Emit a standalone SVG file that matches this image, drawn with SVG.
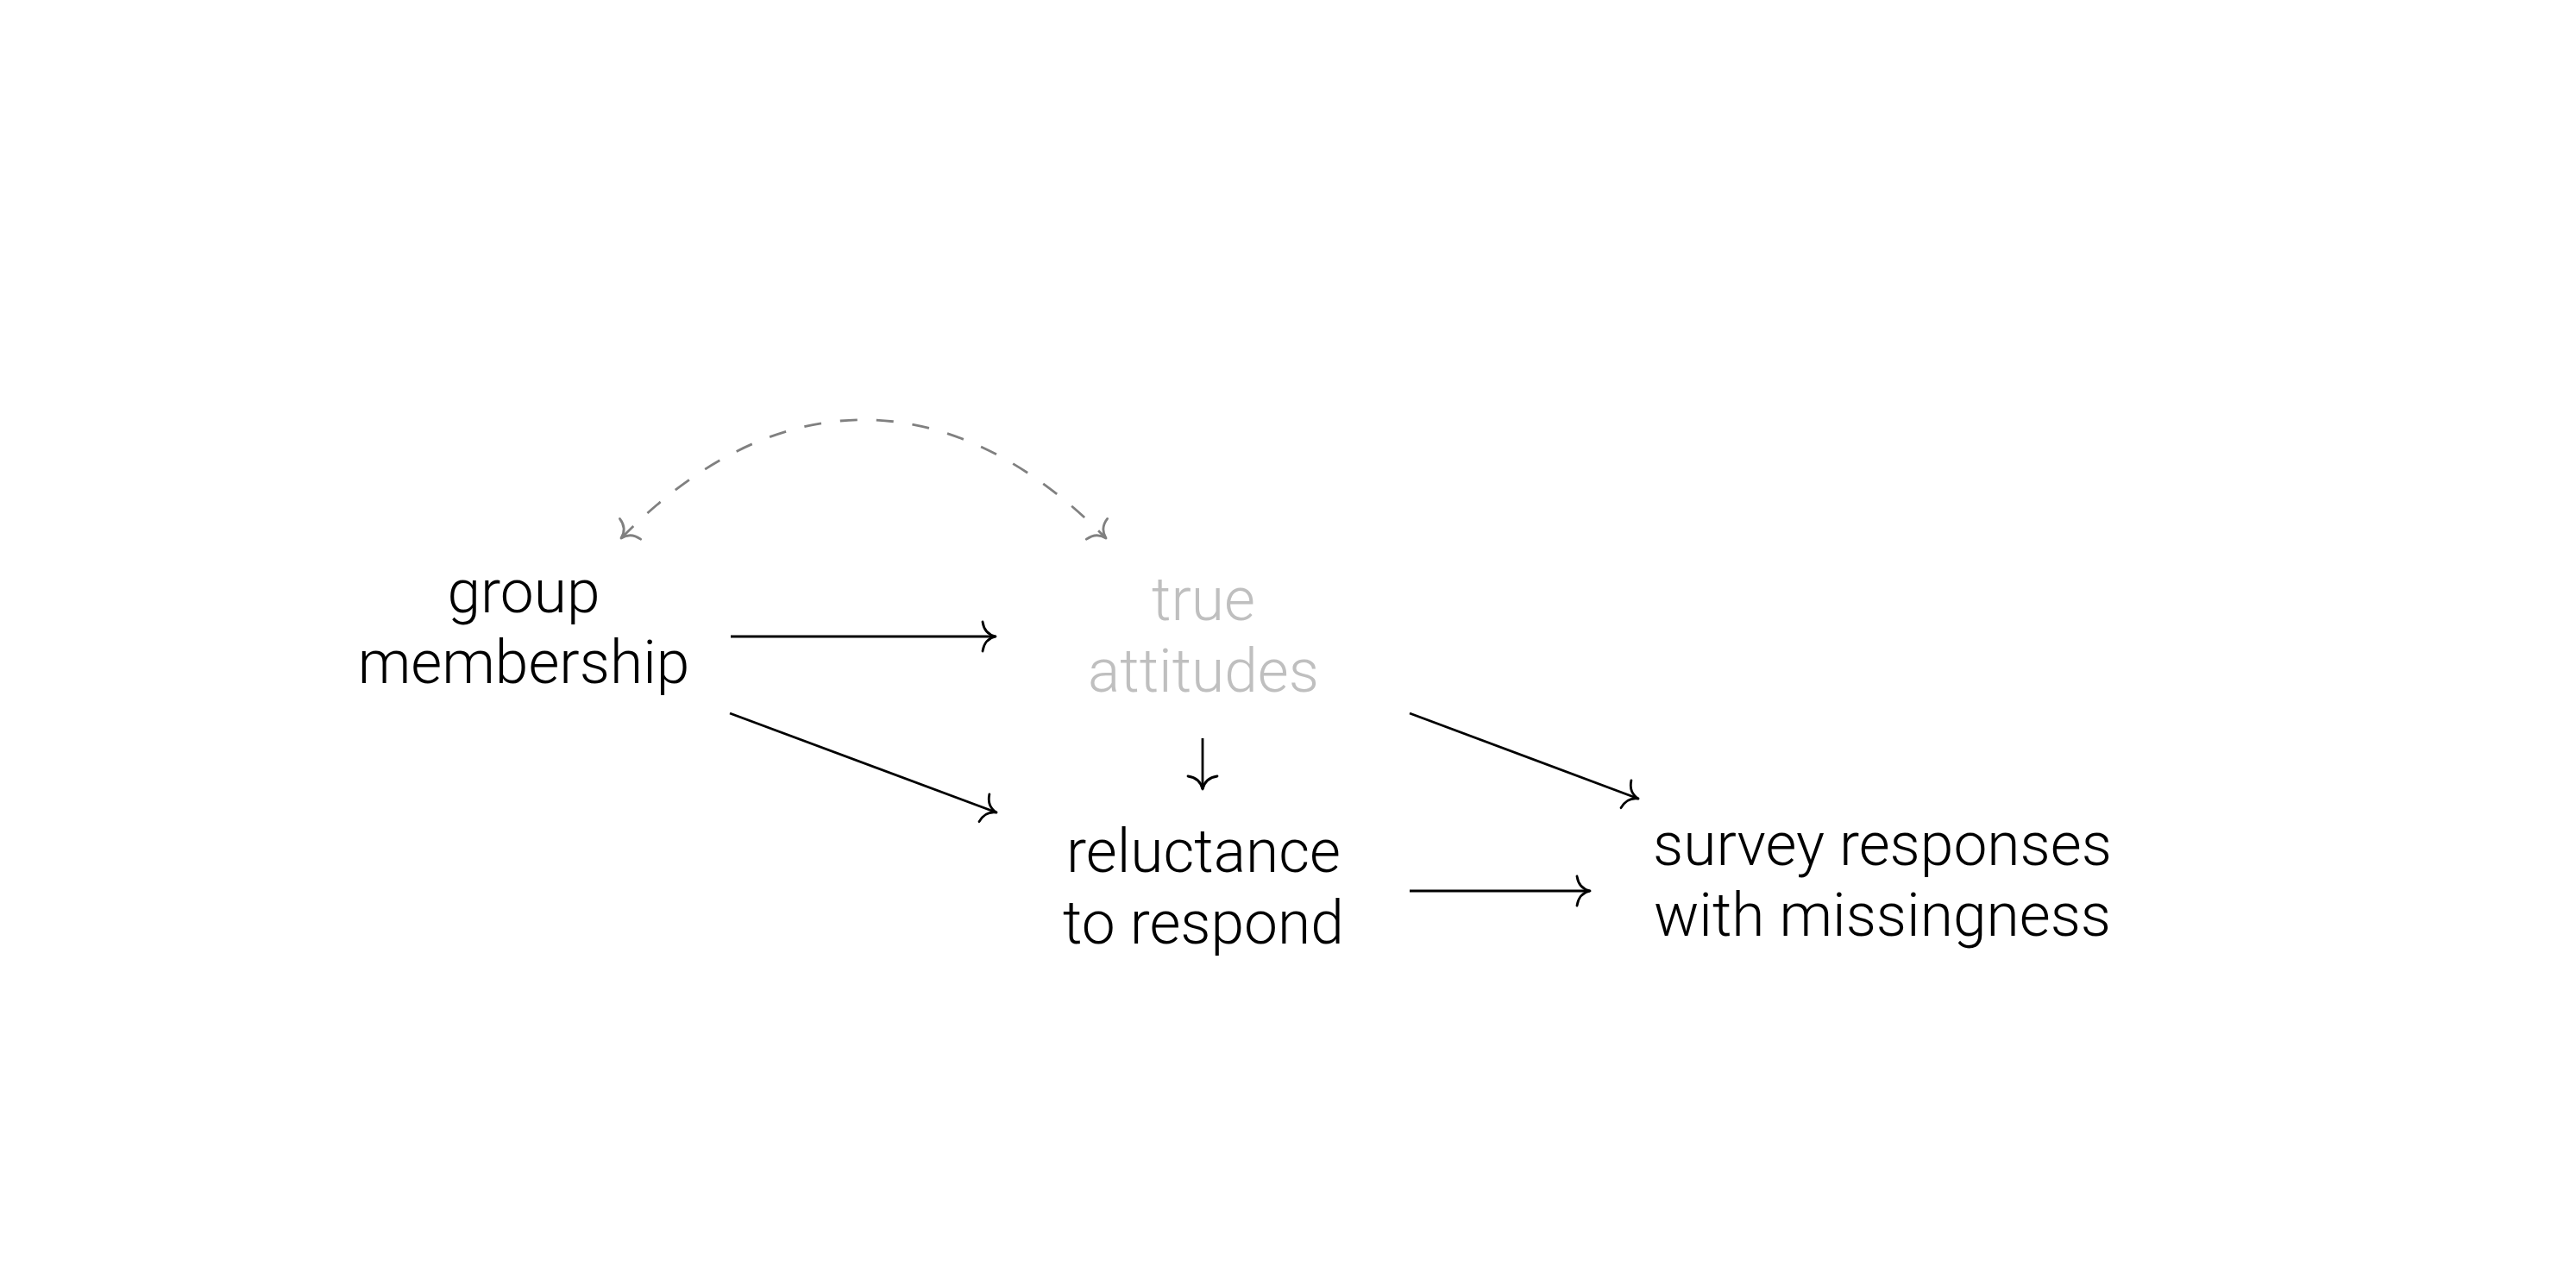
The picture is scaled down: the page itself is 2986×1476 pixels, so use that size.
<svg xmlns="http://www.w3.org/2000/svg" width="2986" height="1476" viewBox="0 0 2986 1476">
  <style>
    .lbl { font-family: Roboto, "Liberation Sans", sans-serif; font-weight: 300; font-size: 69.5px; text-anchor: middle; fill: #000000; }
    .latent { fill: #bfbfbf; }
    .edge { fill: none; stroke: #000000; stroke-width: 2.8; }
    .biedge { fill: none; stroke: #808080; stroke-width: 2.8; stroke-dasharray: 20 22; }
  </style>
  <defs>
    <marker id="tip" markerUnits="userSpaceOnUse" viewBox="-20 -22 24 44" refX="0" refY="0" markerWidth="24" markerHeight="44" orient="auto" overflow="visible">
      <path d="M -15,-17 Q -13,-3 0,0 M -15,17 Q -13,3 0,0" fill="none" stroke="#000000" stroke-width="2.8" stroke-linecap="round"/>
    </marker>
    <marker id="tipgray" markerUnits="userSpaceOnUse" viewBox="-20 -22 24 44" refX="0" refY="0" markerWidth="24" markerHeight="44" orient="auto-start-reverse" overflow="visible">
      <path d="M -15,-17 Q -13,-3 0,0 M -15,17 Q -13,3 0,0" fill="none" stroke="#808080" stroke-width="2.8" stroke-linecap="round"/>
    </marker>
  </defs>
  <rect width="2986" height="1476" fill="#ffffff"/>

  <g id="connectors">
    <path class="edge" d="M 847,738 L 1154,738" marker-end="url(#tip)"/>
    <path class="edge" d="M 846,827 L 1155,942" marker-end="url(#tip)"/>
    <path class="edge" d="M 1394,856 L 1394,915" marker-end="url(#tip)"/>
    <path class="edge" d="M 1634,827 L 1899,926" marker-end="url(#tip)"/>
    <path class="edge" d="M 1634,1033 L 1843,1033" marker-end="url(#tip)"/>
    <path class="biedge" d="M 720,624 C 900,441 1102,441 1282,624" marker-start="url(#tipgray)" marker-end="url(#tipgray)"/>
  </g>

  <g id="node-group-membership">
    <text class="lbl" x="607" y="710">group</text>
    <text class="lbl" x="607" y="792">membership</text>
  </g>
  <g id="node-true-attitudes">
    <text class="lbl latent" x="1395" y="719">true</text>
    <text class="lbl latent" x="1395" y="802">attitudes</text>
  </g>
  <g id="node-reluctance">
    <text class="lbl" x="1395" y="1011">reluctance</text>
    <text class="lbl" x="1395" y="1094">to respond</text>
  </g>
  <g id="node-survey">
    <text class="lbl" x="2182" y="1003">survey responses</text>
    <text class="lbl" x="2182" y="1085">with missingness</text>
  </g>
</svg>
